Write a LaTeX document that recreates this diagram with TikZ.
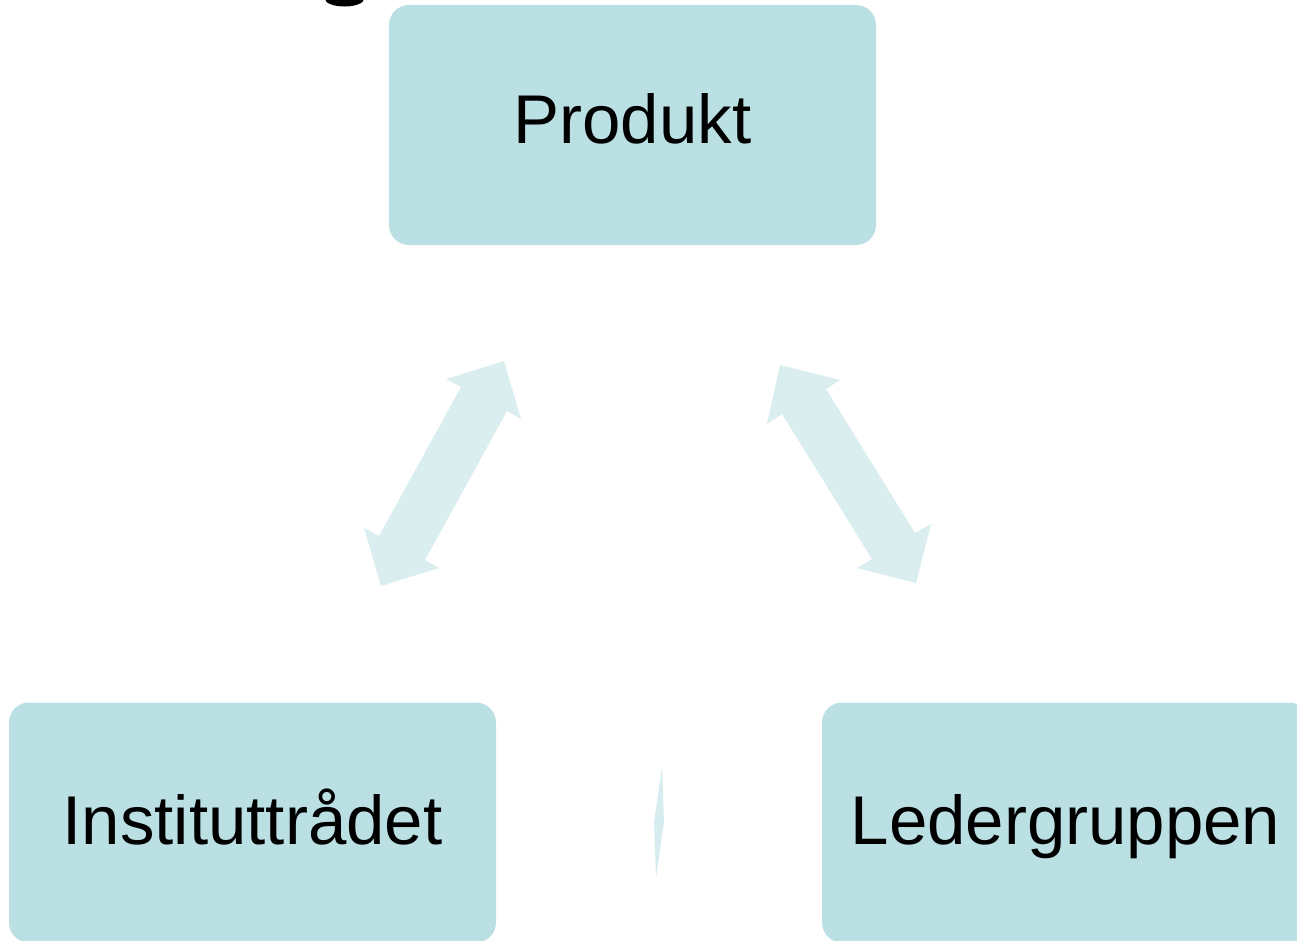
\documentclass[tikz,border=0pt]{standalone}
\usepackage{fontspec}
\setmainfont{Liberation Sans}
\definecolor{boxfill}{HTML}{BBE0E3}
\definecolor{arrowfill}{HTML}{DAEEF0}
\definecolor{sliverfill}{HTML}{D6ECEE}
\begin{document}
\begin{tikzpicture}[x=1pt,y=-1pt,
  orgbox/.style={rectangle, rounded corners=20pt, fill=boxfill, draw=none,
    minimum width=487pt, minimum height=240pt, inner sep=0pt,
    font=\fontsize{69}{80}\selectfont, text=black, text depth=0pt},
  blockarrow/.style={fill=arrowfill, draw=none}]
\useasboundingbox (0,0) rectangle (1297,940);
\clip (0,0) rectangle (1297,940);
\fill[white] (0,0) rectangle (1297,940);

% fragment of a title glyph cut off at the top edge
\fill[black] (344.5,-1) ellipse [x radius=19.5pt, y radius=7.5pt];

\node[orgbox, text height=36pt] (produkt) at (632.5,125) {Produkt};
\node[orgbox, text height=44pt] (institutt) at (252.5,822.5) {Instituttrådet};
\node[orgbox, text height=44pt] (leder) at (1065.5,822.5) {Ledergruppen};

% left double block arrow
\fill[blockarrow] (504,361) -- (521,419) -- (507,411) -- (425,560) -- (439,568)
  -- (381,586) -- (364,528) -- (379,536) -- (461,387) -- (446,379) -- cycle;
% right double block arrow
\fill[blockarrow] (780,365) -- (840,380) -- (826,389) -- (915,533) -- (931,524)
  -- (916,583) -- (857,568) -- (872,559) -- (782,414) -- (767,424) -- cycle;
% thin sliver between the lower boxes
\fill[sliverfill] (662,768) -- (664,822) -- (656,877) -- (654,822) -- cycle;
\end{tikzpicture}
\end{document}
